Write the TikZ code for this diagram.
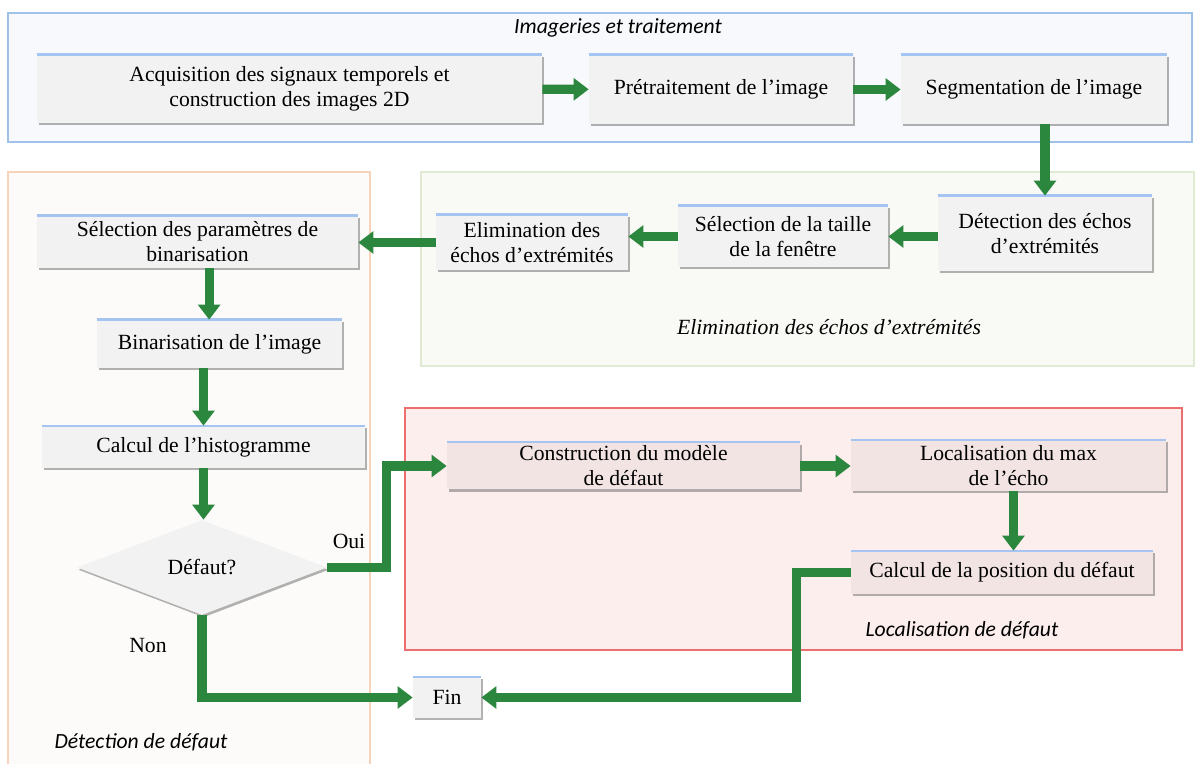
\documentclass[tikz,border=0pt]{standalone}
\usepackage{fontspec}
\setmainfont{Liberation Serif}
\newfontfamily\zonefont{Carlito}
\usepackage{xcolor}
\usetikzlibrary{shapes.geometric,arrows.meta,positioning,shadows}

\definecolor{flowgreen}{RGB}{43,135,62}
\definecolor{boxgray}{RGB}{242,242,242}
\definecolor{boxpink}{RGB}{243,228,228}
\definecolor{topblue}{RGB}{166,196,242}
\definecolor{zoneblue}{RGB}{160,194,232}
\definecolor{zonebluefill}{RGB}{247,249,252}
\definecolor{zoneorange}{RGB}{248,210,185}
\definecolor{zoneorangefill}{RGB}{252,251,250}
\definecolor{zonegreen}{RGB}{224,234,210}
\definecolor{zonegreenfill}{RGB}{249,249,246}
\definecolor{zonered}{RGB}{236,110,110}
\definecolor{zoneredfill}{RGB}{253,238,238}

\begin{document}
\begin{tikzpicture}[
  x=0.6pt, y=-0.6pt,
  every node/.style={font=\fontsize{13}{15}\selectfont},
  zone/.style={line width=0.7pt},
  zonelabel/.style={font=\zonefont\itshape\fontsize{13}{15}\selectfont},
  stepbox/.style={fill=boxgray, align=center, inner sep=2pt,
    drop shadow={shadow xshift=0.9pt, shadow yshift=-1.4pt, fill=black!55, opacity=.55},
    append after command={(\tikzlastnode.north west) edge[draw=topblue, line width=1.4pt] (\tikzlastnode.north east)}},
  decision/.style={diamond, fill=boxgray, aspect=2.6, inner sep=1pt, minimum width=150pt, minimum height=57pt,
    drop shadow={shadow xshift=0.9pt, shadow yshift=-1.4pt, fill=black!55, opacity=.55}},
  flow/.style={draw=flowgreen, line width=5.5pt, -{Triangle[width=13pt,length=9pt]}}
]
\useasboundingbox (0,0) rectangle (1196,764);

\draw[zone, draw=zoneblue, fill=zonebluefill] (8,13) rectangle (1192,142);
\draw[zone, draw=zoneorange, fill=zoneorangefill] (8,172) rectangle (370,768);
\draw[zone, draw=zonegreen, fill=zonegreenfill] (421,172) rectangle (1194,366);
\draw[zone, draw=zonered, fill=zoneredfill] (405,408) rectangle (1182,650);

\node[zonelabel] (ttrait) at (618,28) {Imageries et traitement};
\node[font=\itshape\fontsize{13}{15}\selectfont] (telim) at (829,327) {Elimination des échos d’extrémités};
\node[zonelabel] (tloc) at (962,630) {Localisation de défaut};
\node[zonelabel] (tdet) at (141,742) {Détection de défaut};

\node[stepbox, minimum width=303pt, minimum height=40.8pt] (acq) at (289.5,89) {Acquisition des signaux temporels et\\ construction des images 2D};
\node[stepbox, minimum width=158.4pt, minimum height=41.4pt] (pretr) at (721,89.5) {Prétraitement de l’image};
\node[stepbox, minimum width=159.6pt, minimum height=41.4pt] (segm) at (1034,89.5) {Segmentation de l’image};

\node[stepbox, minimum width=128.4pt, minimum height=45pt] (detect) at (1045,233.5) {Détection des échos\\ d’extrémités};
\node[stepbox, minimum width=126pt, minimum height=36.6pt] (sel) at (783,236.5) {Sélection de la taille\\ de la fenêtre};
\node[stepbox, minimum width=115.2pt, minimum height=33pt] (elim) at (532,242.5) {Elimination des\\ échos d’extrémités};

\node[stepbox, minimum width=192.6pt, minimum height=31.2pt] (binpar) at (197.5,242) {Sélection des paramètres de\\ binarisation};
\node[stepbox, minimum width=147pt, minimum height=28.8pt] (binim) at (219.5,344) {Binarisation de l’image};
\node[stepbox, minimum width=193.8pt, minimum height=25.2pt] (histo) at (203.5,447) {Calcul de l’histogramme};
\node[decision] (dft) at (202,567.5) {Défaut?};
\node[stepbox, minimum width=40.8pt, minimum height=24.6pt] (fin) at (447,697.5) {Fin};

\node[stepbox, fill=boxpink, minimum width=211.8pt, minimum height=27.6pt] (constr) at (623.5,466) {Construction du modèle\\ de défaut};
\node[stepbox, fill=boxpink, minimum width=189pt, minimum height=30.6pt] (locmax) at (1008.5,465.5) {Localisation du max\\ de l’écho};
\node[stepbox, fill=boxpink, minimum width=181.2pt, minimum height=25.8pt] (calcpos) at (1002,572.5) {Calcul de la position du défaut};

\node (oui) at (349,541) {Oui};
\node (non) at (148,646) {Non};

\draw[flow] (acq) -- (pretr);
\draw[flow] (pretr) -- (segm);
\draw[flow] (detect.north |- segm.south) -- (detect.north);
\draw[flow] (sel.east -| detect.west) -- (sel.east);
\draw[flow] (sel.west) -- (sel.west -| elim.east);
\draw[flow] (elim.west) -- (elim.west -| binpar.east);
\draw[flow] ([xshift=7pt]binpar.south) -- ([xshift=7pt]binpar.south |- binim.north);
\draw[flow] (binim.south -| histo.north) -- (histo.north);
\draw[flow] (histo.south) -- (histo.south |- dft.north);
\draw[flow] (dft.east) -- ++(59,0) |- (constr.west);
\draw[flow] (dft.south) |- (fin.west);
\draw[flow] (constr.east) -- (constr.east -| locmax.west);
\draw[flow] ([xshift=3pt]locmax.south) -- ([xshift=3pt]locmax.south |- calcpos.north);
\draw[flow] (calcpos.west) -- ++(-54,0) |- (fin.east);
\end{tikzpicture}
\end{document}
